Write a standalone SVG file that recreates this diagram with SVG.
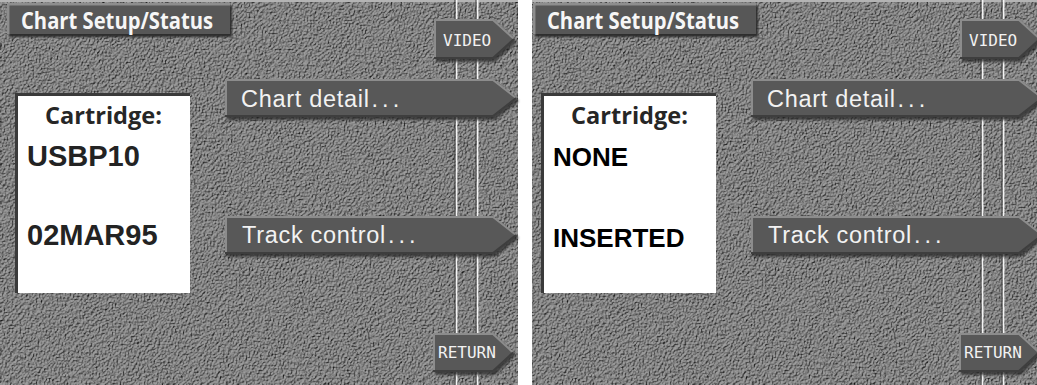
<svg xmlns="http://www.w3.org/2000/svg" width="1037" height="385" viewBox="0 0 1037 385">
  <defs>
    <!-- embossed stucco surface for the screen background -->
    <filter id="stucco" x="0" y="0" width="1" height="1" color-interpolation-filters="sRGB">
      <feTurbulence type="fractalNoise" baseFrequency="0.62" numOctaves="3" seed="11" result="noise"/>
      <feDiffuseLighting in="noise" surfaceScale="2.6" diffuseConstant="1" lighting-color="#9e9e9e" result="lit">
        <feDistantLight azimuth="225" elevation="58"/>
      </feDiffuseLighting>
      <feComposite in="lit" in2="SourceGraphic" operator="in"/>
    </filter>
    <filter id="soft" x="-5%" y="-20%" width="110%" height="150%">
      <feGaussianBlur stdDeviation="1.2"/>
    </filter>
    <clipPath id="rightView">
      <rect x="6" y="0" width="505" height="385"/>
    </clipPath>
    <style>
      .bg { fill: #7c7c7c; }
      .topline { fill: #b4b4b4; }
      .groove-d { stroke: #3c3c3c; stroke-width: 1; }
      .groove-l { stroke: #f4f4f4; stroke-width: 1.6; }
      .title-box { fill: #575757; }
      .title-hi { fill: none; stroke: #8e8e8e; stroke-width: 2.5; }
      .title-sh { fill: #2f2f2f; }
      .title { font-family: "Open Sans", "Liberation Sans", sans-serif; font-weight: 700; font-size: 24px; fill: #f6f6f6; }
      .card { fill: #ffffff; }
      .card-edge { fill: none; stroke: #3a3a3a; stroke-width: 3; }
      .card-head { font-family: "Open Sans", "Liberation Sans", sans-serif; font-weight: 700; font-size: 24px; fill: #262626; }
      .card-val { font-family: "Liberation Sans", Arial, sans-serif; font-weight: 700; font-size: 29px; fill: #232323; }
      .card-msg { font-family: "Liberation Sans", Arial, sans-serif; font-weight: 700; font-size: 26px; fill: #000000; }
      .btn-shadow { fill: #2a2a2a; opacity: 0.75; }
      .btn { fill: #585858; }
      .btn-hi { fill: none; stroke: #8c8c8c; stroke-width: 2; stroke-linejoin: miter; }
      .btn-lo { fill: none; stroke: #3e3e3e; stroke-width: 2; }
      .btn-label { font-family: "Liberation Sans", Arial, sans-serif; font-size: 23.5px; letter-spacing: 0.7px; fill: #f2f2f2; }
      .dots { letter-spacing: 4px; }
      .tab-label { font-family: "DejaVu Sans Mono", "Liberation Mono", monospace; font-size: 16px; fill: #f2f2f2; }
    </style>

    <!-- shared screen furniture: surface and rail grooves -->
    <g id="screen-base">
      <rect class="bg" x="0" y="0" width="518" height="385" filter="url(#stucco)"/>
      <rect class="topline" x="0" y="0" width="518" height="2"/>
      <g id="rails">
        <line class="groove-d" x1="455" y1="0" x2="455" y2="385"/>
        <line class="groove-l" x1="456.6" y1="0" x2="456.6" y2="385"/>
        <line class="groove-d" x1="476" y1="0" x2="476" y2="385"/>
        <line class="groove-l" x1="477.6" y1="0" x2="477.6" y2="385"/>
      </g>
    </g>
  </defs>

  <rect x="0" y="0" width="1037" height="385" fill="#ffffff"/>

  <!-- screen with a cartridge loaded -->
  <g id="screen-loaded">
    <use href="#screen-base"/>

    <g id="title-loaded">
      <rect class="title-sh" x="9" y="6" width="223" height="31" filter="url(#soft)"/>
      <rect class="title-box" x="7" y="3" width="223" height="31"/>
      <polyline class="title-hi" points="8.2,34 8.2,4.2 230,4.2"/>
      <text class="title" x="21" y="28.5" textLength="192" lengthAdjust="spacingAndGlyphs">Chart Setup/Status</text>
    </g>

    <g id="cartridge-loaded">
      <rect class="card" x="15" y="93" width="175" height="200"/>
      <polyline class="card-edge" points="16.5,293 16.5,94.5 190,94.5"/>
      <text class="card-head" x="45" y="124" textLength="117" lengthAdjust="spacingAndGlyphs">Cartridge:</text>
      <text class="card-val" x="27" y="166">USBP10</text>
      <text class="card-val" x="27" y="245">02MAR95</text>
    </g>

    <g id="video-loaded">
      <polygon class="btn-shadow" points="436,22 495,22 517,42 495,62 436,62" filter="url(#soft)"/>
      <polygon class="btn" points="434,19 493,19 515,39 493,59 434,59"/>
      <polyline class="btn-hi" points="435,59 435,20 493,20 514,39"/>
      <polyline class="btn-lo" points="514,39 493,58 434,58"/>
      <text class="tab-label" x="443" y="46">VIDEO</text>
    </g>

    <g id="chart-detail-loaded">
      <polygon class="btn-shadow" points="227,82 495,82 519,101 495,120 227,120" filter="url(#soft)"/>
      <polygon class="btn" points="225,79 493,79 517,98 493,117 225,117"/>
      <polyline class="btn-hi" points="226,117 226,80 493,80 516,98"/>
      <polyline class="btn-lo" points="516,98 493,116 225,116"/>
      <text class="btn-label" x="241" y="107">Chart detail<tspan class="dots" dx="2">...</tspan></text>
    </g>

    <g id="track-control-loaded">
      <polygon class="btn-shadow" points="227,219 495,219 519,238 495,257 227,257" filter="url(#soft)"/>
      <polygon class="btn" points="225,216 493,216 517,235 493,254 225,254"/>
      <polyline class="btn-hi" points="226,254 226,217 493,217 516,235"/>
      <polyline class="btn-lo" points="516,235 493,253 225,253"/>
      <text class="btn-label" x="242" y="243">Track control<tspan class="dots" dx="2">...</tspan></text>
    </g>

    <g id="return-loaded">
      <polygon class="btn-shadow" points="435,336 495,336 516,355 495,375 435,375" filter="url(#soft)"/>
      <polygon class="btn" points="433,333 493,333 514,352.5 493,372 433,372"/>
      <polyline class="btn-hi" points="434,372 434,334 493,334 513,352.5"/>
      <polyline class="btn-lo" points="513,352.5 493,371 433,371"/>
      <text class="tab-label" x="438" y="358">RETURN</text>
    </g>
  </g>

  <!-- screen with no cartridge -->
  <g id="screen-empty" transform="translate(526,0)" clip-path="url(#rightView)">
    <use href="#screen-base"/>

    <g id="title-empty">
      <rect class="title-sh" x="9" y="6" width="223" height="31" filter="url(#soft)"/>
      <rect class="title-box" x="7" y="3" width="223" height="31"/>
      <polyline class="title-hi" points="8.2,34 8.2,4.2 230,4.2"/>
      <text class="title" x="21" y="28.5" textLength="192" lengthAdjust="spacingAndGlyphs">Chart Setup/Status</text>
    </g>

    <g id="cartridge-empty">
      <rect class="card" x="15" y="93" width="175" height="200"/>
      <polyline class="card-edge" points="16.5,293 16.5,94.5 190,94.5"/>
      <text class="card-head" x="45" y="124" textLength="117" lengthAdjust="spacingAndGlyphs">Cartridge:</text>
      <text class="card-msg" x="27" y="166">NONE</text>
      <text class="card-msg" x="27" y="247">INSERTED</text>
    </g>

    <g id="video-empty">
      <polygon class="btn-shadow" points="436,22 495,22 517,42 495,62 436,62" filter="url(#soft)"/>
      <polygon class="btn" points="434,19 493,19 515,39 493,59 434,59"/>
      <polyline class="btn-hi" points="435,59 435,20 493,20 514,39"/>
      <polyline class="btn-lo" points="514,39 493,58 434,58"/>
      <text class="tab-label" x="443" y="46">VIDEO</text>
    </g>

    <g id="chart-detail-empty">
      <polygon class="btn-shadow" points="227,82 495,82 519,101 495,120 227,120" filter="url(#soft)"/>
      <polygon class="btn" points="225,79 493,79 517,98 493,117 225,117"/>
      <polyline class="btn-hi" points="226,117 226,80 493,80 516,98"/>
      <polyline class="btn-lo" points="516,98 493,116 225,116"/>
      <text class="btn-label" x="241" y="107">Chart detail<tspan class="dots" dx="2">...</tspan></text>
    </g>

    <g id="track-control-empty">
      <polygon class="btn-shadow" points="227,219 495,219 519,238 495,257 227,257" filter="url(#soft)"/>
      <polygon class="btn" points="225,216 493,216 517,235 493,254 225,254"/>
      <polyline class="btn-hi" points="226,254 226,217 493,217 516,235"/>
      <polyline class="btn-lo" points="516,235 493,253 225,253"/>
      <text class="btn-label" x="242" y="243">Track control<tspan class="dots" dx="2">...</tspan></text>
    </g>

    <g id="return-empty">
      <polygon class="btn-shadow" points="435,336 495,336 516,355 495,375 435,375" filter="url(#soft)"/>
      <polygon class="btn" points="433,333 493,333 514,352.5 493,372 433,372"/>
      <polyline class="btn-hi" points="434,372 434,334 493,334 513,352.5"/>
      <polyline class="btn-lo" points="513,352.5 493,371 433,371"/>
      <text class="tab-label" x="438" y="358">RETURN</text>
    </g>
  </g>
</svg>
